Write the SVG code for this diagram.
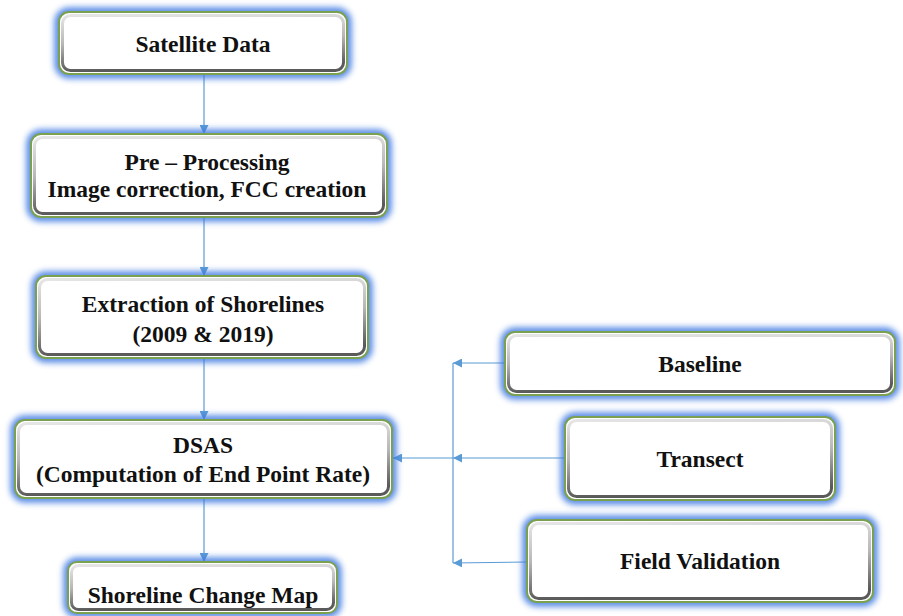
<svg xmlns="http://www.w3.org/2000/svg" width="903" height="616" viewBox="0 0 903 616">
<defs>
<filter id="glow" x="-20%" y="-40%" width="140%" height="180%">
<feGaussianBlur stdDeviation="3"/>
</filter>
<linearGradient id="bevel" x1="0" y1="0" x2="0.15" y2="1">
<stop offset="0" stop-color="#e6e6e6"/>
<stop offset="0.5" stop-color="#b8b8b8"/>
<stop offset="1" stop-color="#5a5a5a"/>
</linearGradient>
<marker id="arr" viewBox="0 0 10 10" refX="10" refY="5" markerWidth="9" markerHeight="9" markerUnits="userSpaceOnUse" orient="auto">
<path d="M0,0 L10,5 L0,10 z" fill="#5b9bd5"/>
</marker>
</defs>
<style>
.glow{fill:none;stroke:#3d78e0;stroke-width:9;filter:url(#glow);opacity:0.9}
.outer{fill:#ffffff;stroke:#7aa050;stroke-width:2}
.inner{fill:#ffffff;stroke:url(#bevel);stroke-width:3}
text{font-family:'Liberation Serif','Times New Roman',Times,'DejaVu Serif',serif;font-weight:bold;font-size:23.5px;fill:#111;text-anchor:middle}
.c{fill:none;stroke:#5b9bd5;stroke-width:1.2}
</style>
<rect width="903" height="616" fill="#ffffff"/>

<g id="connectors">
<path class="c" d="M204,74 L204,134" marker-end="url(#arr)"/>
<path class="c" d="M204,217 L204,276" marker-end="url(#arr)"/>
<path class="c" d="M204,358 L204,420" marker-end="url(#arr)"/>
<path class="c" d="M204,498 L204,562" marker-end="url(#arr)"/>
<path class="c" d="M453,363 L453,563"/>
<path class="c" d="M506,363 L453,363" marker-end="url(#arr)"/>
<path class="c" d="M566,458 L453,458" marker-end="url(#arr)"/>
<path class="c" d="M453,458 L393,458" marker-end="url(#arr)"/>
<path class="c" d="M528,562 L453,563" marker-end="url(#arr)"/>
</g>

<g id="n1">
<rect class="glow" x="59" y="12" width="288" height="62" rx="10"/>
<rect class="outer" x="59" y="12" width="288" height="62" rx="10"/>
<rect class="inner" x="62.5" y="15.5" width="281" height="55" rx="8"/>
<text x="203" y="52" font-family="Liberation Serif, serif">Satellite Data</text>
</g>

<g id="n2">
<rect class="glow" x="31" y="134" width="356" height="83" rx="10"/>
<rect class="outer" x="31" y="134" width="356" height="83" rx="10"/>
<rect class="inner" x="34.5" y="137.5" width="349" height="76" rx="8"/>
<text x="207" y="170" font-family="Liberation Serif, serif">Pre – Processing</text>
<text x="207" y="197" font-family="Liberation Serif, serif">Image correction, FCC creation</text>
</g>

<g id="n3">
<rect class="glow" x="36" y="276" width="332" height="82" rx="10"/>
<rect class="outer" x="36" y="276" width="332" height="82" rx="10"/>
<rect class="inner" x="39.5" y="279.5" width="325" height="75" rx="8"/>
<text x="203" y="312" font-family="Liberation Serif, serif">Extraction of Shorelines</text>
<text x="203" y="342" font-family="Liberation Serif, serif">(2009 &amp; 2019)</text>
</g>

<g id="n4">
<rect class="glow" x="15" y="420" width="377" height="78" rx="10"/>
<rect class="outer" x="15" y="420" width="377" height="78" rx="10"/>
<rect class="inner" x="18.5" y="423.5" width="370" height="71" rx="8"/>
<text x="203" y="453" font-family="Liberation Serif, serif">DSAS</text>
<text x="203" y="482" font-family="Liberation Serif, serif">(Computation of End Point Rate)</text>
</g>

<g id="n5">
<rect class="glow" x="68" y="562" width="269" height="51" rx="9"/>
<rect class="outer" x="68" y="562" width="269" height="51" rx="9"/>
<rect class="inner" x="71.5" y="565.5" width="262" height="44" rx="7"/>
<text x="203" y="603" font-family="Liberation Serif, serif">Shoreline Change Map</text>
</g>

<g id="n6">
<rect class="glow" x="505" y="332" width="390" height="63" rx="10"/>
<rect class="outer" x="505" y="332" width="390" height="63" rx="10"/>
<rect class="inner" x="508.5" y="335.5" width="383" height="56" rx="8"/>
<text x="700" y="372" font-family="Liberation Serif, serif">Baseline</text>
</g>

<g id="n7">
<rect class="glow" x="565" y="417" width="270" height="83" rx="10"/>
<rect class="outer" x="565" y="417" width="270" height="83" rx="10"/>
<rect class="inner" x="568.5" y="420.5" width="263" height="76" rx="8"/>
<text x="700" y="467" font-family="Liberation Serif, serif">Transect</text>
</g>

<g id="n8">
<rect class="glow" x="527" y="520" width="346" height="82" rx="10"/>
<rect class="outer" x="527" y="520" width="346" height="82" rx="10"/>
<rect class="inner" x="530.5" y="523.5" width="339" height="75" rx="8"/>
<text x="700" y="569" font-family="Liberation Serif, serif">Field Validation</text>
</g>
</svg>
